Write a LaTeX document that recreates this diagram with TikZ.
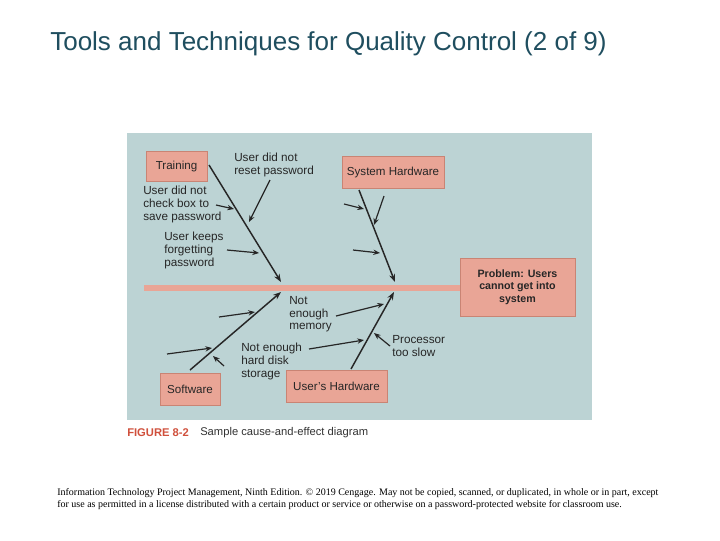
\documentclass[tikz,border=0pt]{standalone}
\usepackage{fontspec}
\setmainfont{Liberation Sans}
\newfontfamily\serifft{Liberation Serif}
\usetikzlibrary{arrows.meta}
\definecolor{panel}{HTML}{BCD3D4}
\definecolor{salmon}{HTML}{E9A596}
\definecolor{edge}{HTML}{C98474}
\definecolor{titleblue}{HTML}{1F4E5F}
\definecolor{figred}{HTML}{D0503C}
\tikzset{
  catbox/.style={fill=salmon,draw=edge,line width=0.6pt,inner sep=0pt,font=\fontsize{8.7}{10}\selectfont,text=black!85},
  lbl/.style={inner sep=0pt,align=left,font=\fontsize{8.8}{9.6}\selectfont,text=black!85},
  bone/.style={line width=1.1pt,black!85,-{Stealth[length=6pt,width=4.5pt]}},
  twig/.style={line width=0.9pt,black!85,-{Stealth[length=5pt,width=4pt]}}
}
\begin{document}
\begin{tikzpicture}[x=0.75pt,y=-0.75pt]
\useasboundingbox (0,0) rectangle (720,540);
\fill[white] (0,0) rectangle (720,540);
\node[anchor=west,inner sep=0pt,text=titleblue,font=\fontsize{19.5}{22}\selectfont] (title) at (50,44) {Tools and Techniques for Quality Control (2 of 9)};
\fill[panel] (127,133) rectangle (592,420);
% spine
\fill[salmon] (144,285) rectangle (462,291);
\node[catbox,minimum width=115*0.75pt,minimum height=58*0.75pt,align=center,font=\bfseries\fontsize{8}{9.5}\selectfont] (prob) at (517.5,287) {Problem: Users\\cannot get into\\system};
\coordinate (j1) at (281,282);
\coordinate (j2) at (395,282);
\coordinate (j3) at (281,292);
\coordinate (j4) at (394,292);
\node[catbox,minimum width=61*0.75pt,minimum height=30*0.75pt] (train) at (176.5,166) {Training};
\node[catbox,minimum width=102*0.75pt,minimum height=32*0.75pt] (syshw) at (393,172) {System Hardware};
\node[catbox,minimum width=60*0.75pt,minimum height=32*0.75pt] (soft) at (190,389) {Software};
\node[catbox,minimum width=101*0.75pt,minimum height=32*0.75pt] (ushw) at (336.5,386) {User's Hardware};
\coordinate (t0) at (209,165);
\coordinate (s0) at (359,190);
\coordinate (w0) at (190,370);
\coordinate (u0) at (351,369);
\draw[bone] (t0) -- (j1);
\draw[bone] (s0) -- (j2);
\draw[bone] (w0) -- (j3);
\draw[bone] (u0) -- (j4);
% labels
\node[lbl,anchor=north west] (l1) at (234,153) {User did not\\reset password};
\node[lbl,anchor=north west] (l2) at (143,186) {User did not\\check box to\\save password};
\node[lbl,anchor=north west] (l3) at (164,232) {User keeps\\forgetting\\password};
\node[lbl,anchor=north west] (l4) at (289,296) {Not\\enough\\memory};
\node[lbl,anchor=north west] (l5) at (241,343) {Not enough\\hard disk\\storage};
\node[lbl,anchor=north west] (l6) at (392,335) {Processor\\too slow};
\coordinate (a1s) at (270,180); \coordinate (a1e) at (249,222);
\coordinate (a2s) at (216,205); \coordinate (a2e) at (234,209);
\coordinate (a3s) at (227,250); \coordinate (a3e) at (259,253);
\coordinate (a4s) at (336,316); \coordinate (a4e) at (384,304);
\coordinate (a5s) at (309,349); \coordinate (a5e) at (364,340);
\coordinate (a6s) at (390,346); \coordinate (a6e) at (374,333);
\coordinate (b1s) at (344,204); \coordinate (b1e) at (364,209);
\coordinate (b2s) at (384,196); \coordinate (b2e) at (374,225);
\coordinate (b3s) at (353,250); \coordinate (b3e) at (380,253);
\coordinate (c1s) at (219,317); \coordinate (c1e) at (255,312);
\coordinate (c2s) at (167,354); \coordinate (c2e) at (212,348);
\coordinate (c3s) at (224,366); \coordinate (c3e) at (213,356);
\foreach \n in {a1,a2,a3,a4,a5,a6,b1,b2,b3,c1,c2,c3}
  \draw[twig] (\n s) -- (\n e);
\node[anchor=west,inner sep=0pt,font=\bfseries\fontsize{8.4}{9}\selectfont,text=figred] (fig) at (127,433) {FIGURE 8-2};
\node[anchor=west,inner sep=0pt,font=\fontsize{8.4}{9}\selectfont,text=black!80] (cap) at (200,433) {Sample cause-and-effect diagram};
\node[anchor=north west,inner sep=0pt,align=left,font=\serifft\fontsize{7.5}{9}\selectfont] (foot) at (57,488) {Information Technology Project Management, Ninth Edition. © 2019 Cengage. May not be copied, scanned, or duplicated, in whole or in part, except\\for use as permitted in a license distributed with a certain product or service or otherwise on a password-protected website for classroom use.};
\end{tikzpicture}
\end{document}
